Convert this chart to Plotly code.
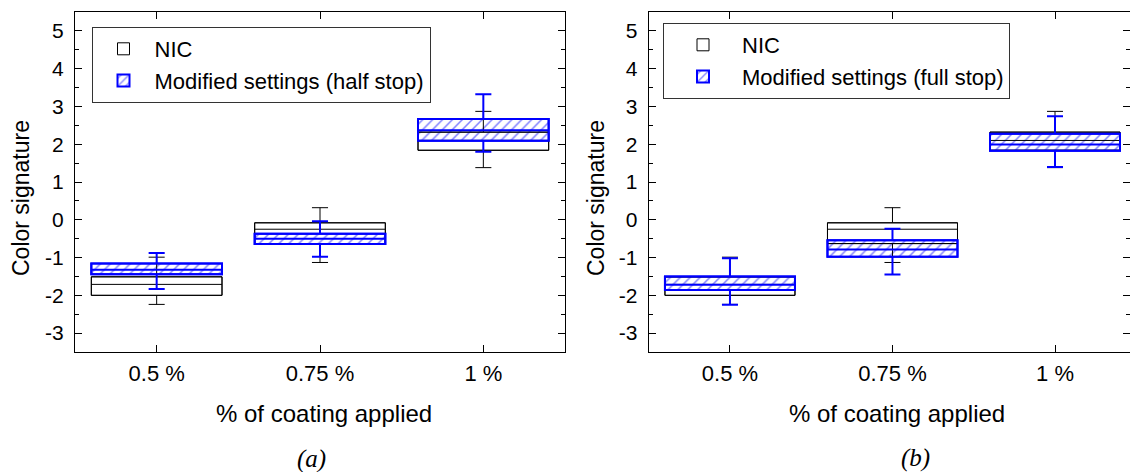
import plotly.graph_objects as go

# ---------------- data ----------------
categories = ["0.5 %", "0.75 %", "1 %"]

# NIC (same reference in both panels)
nic_q1 = [-2.00, -0.63, 1.84]
nic_median = [-1.71, -0.25, 2.10]
nic_q3 = [-1.51, -0.08, 2.32]
nic_low = [-2.24, -1.13, 1.38]
nic_high = [-0.99, 0.32, 2.87]

# Modified settings (half stop) - panel (a)
half_q1 = [-1.44, -0.64, 2.09]
half_median = [-1.32, -0.50, 2.37]
half_q3 = [-1.16, -0.37, 2.67]
half_low = [-1.83, -0.98, 1.80]
half_high = [-0.88, -0.04, 3.32]

# Modified settings (full stop) - panel (b)
full_q1 = [-1.86, -0.98, 1.83]
full_median = [-1.72, -0.79, 1.99]
full_q3 = [-1.50, -0.54, 2.28]
full_low = [-2.25, -1.45, 1.40]
full_high = [-1.02, -0.24, 2.74]

y_tickvals = [-3, -2, -1, 0, 1, 2, 3, 4, 5]
y_ticktext = ["-3", "-2", "-1", "0", "1", "2", "3", "4", "5"]

legend_labels_a = ["NIC", "Modified settings (half stop)"]
legend_labels_b = ["NIC", "Modified settings (full stop)"]

# ---------------- style ----------------
FONT = "Liberation Sans, Arial, sans-serif"
SERIF = "Liberation Serif, Times New Roman, serif"
BLUE = "#0000ff"
BOX_W = 0.8

fig = go.Figure()


def add_panel(xa, ya, legend_name, labels, mq1, mmed, mq3, mlow, mhigh):
    fig.add_trace(go.Bar(
        x=categories, y=[b - a for a, b in zip(nic_q1, nic_q3)], base=nic_q1,
        width=BOX_W, name=labels[0], xaxis=xa, yaxis=ya, legend=legend_name,
        marker=dict(color="rgba(255,255,255,0)", line=dict(color="black", width=1)),
        hoverinfo="skip",
    ))
    fig.add_trace(go.Bar(
        x=categories, y=[b - a for a, b in zip(mq1, mq3)], base=mq1,
        width=BOX_W, name=labels[1], xaxis=xa, yaxis=ya, legend=legend_name,
        marker=dict(color="rgba(255,255,255,0)", line=dict(color=BLUE, width=2),
                    pattern=dict(shape="/", fgcolor=BLUE, bgcolor="rgba(255,255,255,0)",
                                 size=7, solidity=0.22, fillmode="overlay")),
        hoverinfo="skip",
    ))
    fig.add_trace(go.Box(
        x=categories, q1=nic_q1, median=nic_median, q3=nic_q3,
        lowerfence=nic_low, upperfence=nic_high, width=BOX_W, whiskerwidth=0.123,
        fillcolor="rgba(255,255,255,0)", line=dict(color="black", width=1),
        boxpoints=False, showlegend=False, xaxis=xa, yaxis=ya,
    ))
    fig.add_trace(go.Box(
        x=categories, q1=mq1, median=mmed, q3=mq3,
        lowerfence=mlow, upperfence=mhigh, width=BOX_W, whiskerwidth=0.123,
        fillcolor="rgba(255,255,255,0)", line=dict(color=BLUE, width=2),
        boxpoints=False, showlegend=False, xaxis=xa, yaxis=ya,
    ))


add_panel("x", "y", "legend", legend_labels_a, half_q1, half_median, half_q3, half_low, half_high)
add_panel("x2", "y2", "legend2", legend_labels_b, full_q1, full_median, full_q3, full_low, full_high)

W, H = 1130, 472
dom_a = [75 / W, 565 / W]
dom_b = [648.7 / W, 1.0]
top, bottom = 12, 352
ydom = [1 - bottom / H, 1 - top / H]

xaxis_common = dict(
    type="category", categoryorder="array", categoryarray=categories,
    showline=True, linecolor="black", linewidth=1, mirror="ticks",
    ticks="inside", ticklen=7, tickcolor="black",
    tickfont=dict(family=FONT, size=22, color="black"),
    showgrid=False, zeroline=False, fixedrange=True,
    ticklabelstandoff=2,
)
yaxis_common = dict(
    range=[-3.5, 5.5], tickmode="array", tickvals=y_tickvals, ticktext=y_ticktext,
    showline=True, linecolor="black", linewidth=1, mirror="ticks",
    ticks="inside", ticklen=7, tickcolor="black",
    minor=dict(tickmode="linear", tick0=0, dtick=0.5, ticks="inside", ticklen=4, tickcolor="black"),
    tickfont=dict(family=FONT, size=21, color="black"),
    showgrid=False, zeroline=False, fixedrange=True,
    ticklabelstandoff=6,
)

legend_common = dict(
    xanchor="left", yanchor="top", bordercolor="#333333", borderwidth=1,
    bgcolor="rgba(255,255,255,0)", font=dict(family=FONT, size=22, color="black"),
    tracegroupgap=0,
)

fig.update_layout(
    width=W, height=H, margin=dict(l=0, r=0, t=0, b=0),
    paper_bgcolor="white", plot_bgcolor="white",
    barmode="overlay", boxmode="overlay",
    font=dict(family=FONT, size=22, color="black"),
    xaxis=dict(domain=dom_a, range=[-0.5, 2.5], anchor="y", **xaxis_common),
    yaxis=dict(domain=ydom, anchor="x", **yaxis_common),
    xaxis2=dict(domain=dom_b, range=[-0.5, 2.4615], anchor="y2", **xaxis_common),
    yaxis2=dict(domain=ydom, anchor="x2", **yaxis_common),
    legend=dict(x=91.5 / W, y=1 - 27 / H, itemwidth=52, **legend_common),
    legend2=dict(x=663 / W, y=1 - 23 / H, itemwidth=68, **legend_common),
    showlegend=True,
)

annotations = [
    dict(text="Color signature", x=21 / W, y=1 - 198 / H, textangle=-90,
         font=dict(family=FONT, size=23, color="black")),
    dict(text="Color signature", x=596 / W, y=1 - 198 / H, textangle=-90,
         font=dict(family=FONT, size=23, color="black")),
    dict(text="% of coating applied", x=324 / W, y=1 - 413 / H,
         font=dict(family=FONT, size=24, color="black")),
    dict(text="% of coating applied", x=897 / W, y=1 - 413 / H,
         font=dict(family=FONT, size=24, color="black")),
    dict(text="<i>(a)</i>", x=311 / W, y=1 - 459 / H,
         font=dict(family=SERIF, size=25, color="black")),
    dict(text="<i>(b)</i>", x=915 / W, y=1 - 458 / H,
         font=dict(family=SERIF, size=25, color="black")),
]
for a in annotations:
    a.update(xref="paper", yref="paper", showarrow=False, xanchor="center", yanchor="middle")
fig.update_layout(annotations=annotations)

fig.write_html("out.html")
